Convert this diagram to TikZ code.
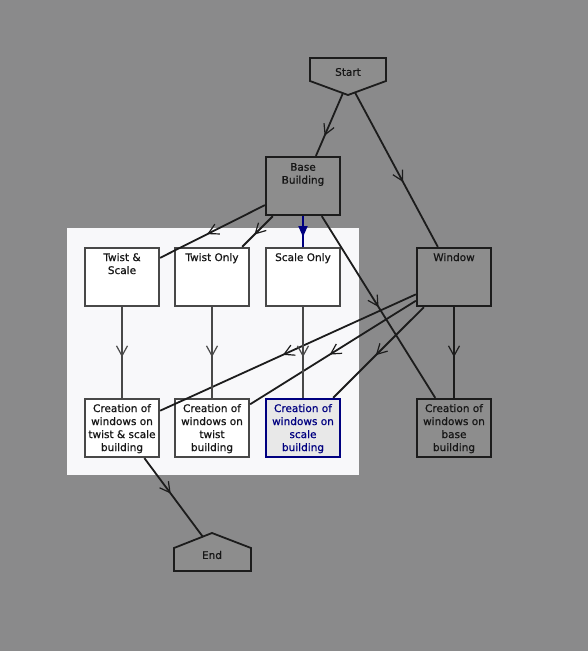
\documentclass[tikz,border=0pt]{standalone}
\usepackage{fontspec}
\setmainfont{DejaVu Sans}[BoldFont={DejaVu Sans},BoldFeatures={FakeBold=0.7}]
\usetikzlibrary{arrows.meta,decorations.markings}
\definecolor{bg}{HTML}{8A8A8B}
\definecolor{boxgrey}{HTML}{8D8D8D}
\definecolor{panel}{HTML}{F8F8FA}
\definecolor{navyc}{HTML}{000080}
\definecolor{selfill}{HTML}{E8E8E8}
\definecolor{ln}{HTML}{1C1C1C}
\definecolor{lnp}{HTML}{484848}
\definecolor{tx}{HTML}{161616}
\begin{document}
\begin{tikzpicture}[x=1pt,y=-1pt,
  box/.style={rectangle, minimum width=74.5pt, minimum height=58.5pt, inner sep=0pt, line width=1.8pt},
  gbox/.style={box, draw=ln, fill=boxgrey},
  wbox/.style={box, draw=lnp, fill=white},
  sbox/.style={box, draw=navyc, fill=selfill},
  pent/.style={draw=ln, fill=boxgrey, line width=1.8pt, line join=miter},
  txt/.style={anchor=north, inner sep=0pt, align=center, font=\fontsize{10.5}{13}\selectfont\bfseries, text=tx},
  conn/.style={draw=ln, line width=1.8pt, postaction={decorate},
    decoration={markings, mark=at position #1 with {\arrow[line width=1.2pt]{Straight Barb[length=10pt,width=11pt]}}}},
  conn/.default=0.55,
  pconn/.style={conn=#1, draw=lnp},
  pconn/.default=0.55,
  blueconn/.style={draw=navyc, line width=1.8pt, postaction={decorate},
    decoration={markings, mark=at position 0.68 with {\arrow{Triangle[length=11pt,width=9pt]}}}}
]
% background and panel
\fill[bg] (0,0) rectangle (588,651);
\useasboundingbox (0,0) rectangle (588,651);
\fill[panel] (67,228) rectangle (359,475);

% Start pentagon
\draw[pent] (310,58) -- (386,58) -- (386,81) -- (348,95) -- (310,81) -- cycle;
\node[inner sep=0pt, font=\fontsize{10.5}{13}\selectfont\bfseries, text=tx] (start) at (348,72) {Start};
\coordinate (sL) at (343,93);
\coordinate (sR) at (355,92.5);

% End pentagon
\draw[pent] (174,548) -- (212,533) -- (251,548) -- (251,571) -- (174,571) -- cycle;
\node[inner sep=0pt, font=\fontsize{10.5}{13}\selectfont\bfseries, text=tx] (end) at (212,555) {End};
\coordinate (eP) at (203,537);

% boxes
\node[gbox] (base) at (303,186) {};
\node[gbox] (window) at (454,277) {};
\node[gbox] (cbase) at (454,428) {};
\node[wbox] (ts) at (122,277) {};
\node[wbox] (to) at (212,277) {};
\node[wbox] (so) at (303,277) {};
\node[wbox] (cts) at (122,428) {};
\node[wbox] (ct) at (212,428) {};
\node[sbox] (cs) at (303,428) {};

% texts
\node[txt] (baseT) at ([yshift=-7pt]base.north) {Base\\Building};
\node[txt] (windowT) at ([yshift=-6pt]window.north) {Window};
\node[txt] (cbaseT) at ([yshift=-6pt]cbase.north) {Creation of\\windows on\\base\\building};
\node[txt] (tsT) at ([yshift=-6pt]ts.north) {Twist \&\\Scale};
\node[txt] (toT) at ([yshift=-6pt]to.north) {Twist Only};
\node[txt] (soT) at ([yshift=-6pt]so.north) {Scale Only};
\node[txt] (ctsT) at ([yshift=-6pt]cts.north) {Creation of\\windows on\\twist \& scale\\building};
\node[txt] (ctT) at ([yshift=-6pt]ct.north) {Creation of\\windows on\\twist\\building};
\node[txt, text=navyc] (csT) at ([yshift=-6pt]cs.north) {Creation of\\windows on\\scale\\building};

% connectors
\draw[conn=0.68] (sL) -- (base);
\draw[conn=0.58] (sR) -- (window);
\draw[conn=0.55] (base) -- (ts);
\draw[conn=0.6] (base) -- (to);
\draw[blueconn] (base) -- (so);
\draw[conn=0.5] (base) -- (cbase);
\draw[conn=0.55] (window) -- (cbase);
\draw[conn=0.52] (window) -- (cts);
\draw[conn=0.52] (window) -- (ct);
\draw[conn=0.53] (window) -- (cs);
\draw[pconn=0.55] (ts) -- (cts);
\draw[pconn=0.55] (to) -- (ct);
\draw[pconn=0.55] (so) -- (cs);
\draw[conn=0.45] (cts) -- (eP);
\end{tikzpicture}
\end{document}
